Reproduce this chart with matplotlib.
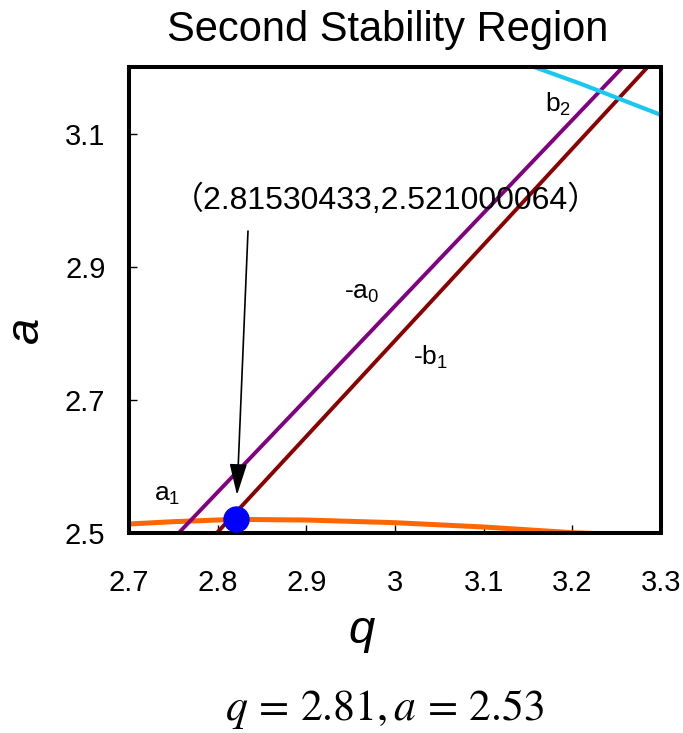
import matplotlib
matplotlib.use("Agg")
import matplotlib.pyplot as plt

plt.rcParams['font.family'] = ['Liberation Sans', 'DejaVu Sans']
plt.rcParams['mathtext.fontset'] = 'custom'
plt.rcParams['mathtext.rm'] = 'Liberation Sans'
plt.rcParams['mathtext.it'] = 'Liberation Sans:italic'

# ---- data ----
q_a0 = [2.756, 2.90, 3.05, 3.257]          # -a0 curve
a_a0 = [2.500, 2.701, 2.911, 3.200]
q_b1 = [2.799, 2.95, 3.10, 3.285]          # -b1 curve
a_b1 = [2.500, 2.717, 2.933, 3.200]
q_b2 = [3.157, 3.209, 3.300]               # b2 curve
a_b2 = [3.200, 3.175, 3.128]
q_a1 = [2.70, 2.75, 2.82, 2.90, 3.00, 3.10, 3.20, 3.27]   # a1 curve
a_a1 = [2.5135, 2.517, 2.5205, 2.5195, 2.5155, 2.509, 2.5005, 2.497]
point_q, point_a = 2.8207, 2.5206
point_label = "（2.81530433,2.521000064）"
xticks = [2.7, 2.8, 2.9, 3.0, 3.1, 3.2, 3.3]
xticklabels = ["2.7", "2.8", "2.9", "3", "3.1", "3.2", "3.3"]
yticks = [2.5, 2.7, 2.9, 3.1]
yticklabels = ["2.5", "2.7", "2.9", "3.1"]

fig = plt.figure(figsize=(6.83, 7.33), dpi=100)
ax = fig.add_axes([129/683, 1-533/733, 532/683, 466/733])

ax.plot(q_a1, a_a1, color='#FF6600', lw=3.6, zorder=2, solid_capstyle='butt')
ax.plot(q_a0, a_a0, color='#800080', lw=2.8, zorder=2.1)
ax.plot(q_b1, a_b1, color='#8B0000', lw=2.8, zorder=2.1)
ax.plot(q_b2, a_b2, color='#19C8F0', lw=3.0, zorder=2.1)
ax.plot([point_q], [point_a], 'o', color='#0000FF', ms=18, zorder=3)

ax.set_xlim(2.7, 3.3)
ax.set_ylim(2.5, 3.2)
ax.set_xticks(xticks)
ax.set_xticklabels(xticklabels)
ax.set_yticks(yticks)
ax.set_yticklabels(yticklabels)
ax.tick_params(axis='both', direction='in', length=6, width=1.0, labelsize=21)
ax.tick_params(axis='x', pad=26)
ax.tick_params(axis='y', pad=17)
for s in ax.spines.values():
    s.set_linewidth(2.9)

# curve labels
ax.text(3.1838, 3.1444, r'$\mathrm{b_2}$', fontsize=19, ha='center', va='center')
ax.text(2.9628, 2.8605, r'-$\mathrm{a_0}$', fontsize=19, ha='center', va='center')
ax.text(3.0406, 2.7644, r'-$\mathrm{b_1}$', fontsize=19, ha='center', va='center')
ax.text(2.7429, 2.557, r'$\mathrm{a_1}$', fontsize=19, ha='center', va='center')

# point annotation
ax.text(2.9898, 2.9867, point_label, fontsize=23, ha='center', va='baseline',
        family=['Liberation Sans', 'Noto Sans CJK SC'])
ax.annotate('', xy=(2.8218, 2.557), xytext=(2.8342, 2.9536),
            arrowprops=dict(arrowstyle='-|>,head_length=0.97,head_width=0.27',
                            mutation_scale=20, lw=1.2, color='black',
                            shrinkA=0, shrinkB=0))

fig.text(388/683, 1-41/733, 'Second Stability Region', fontsize=30,
         ha='center', va='baseline')
fig.text(362/683, 1-643/733, 'q', fontsize=34, style='italic',
         ha='center', va='baseline')
fig.text(26/683, 1-330/733, 'a', fontsize=34, style='italic',
         rotation=90, ha='center', va='center')
fig.text(385/683, 1-720/733, r'$q\,=\,2.81,a\,=\,2.53$', fontsize=31.5,
         ha='center', va='baseline', math_fontfamily='stix')

fig.savefig('out.png', dpi=100)
